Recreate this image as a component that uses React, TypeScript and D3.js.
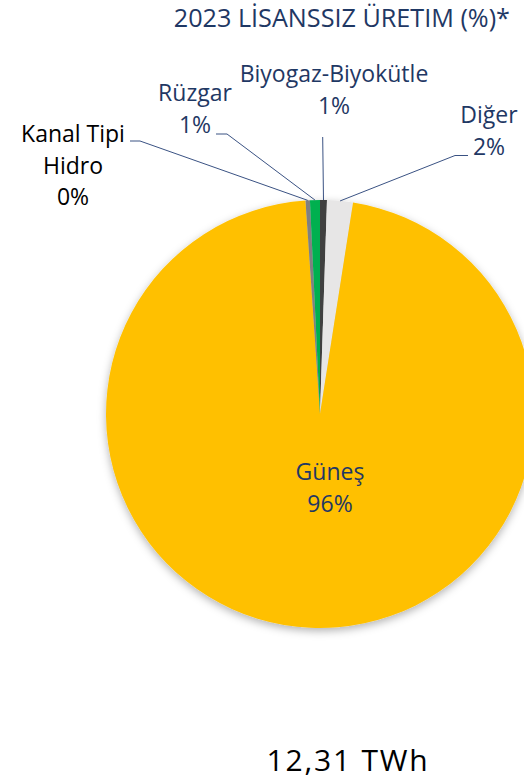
import React from "react";
import * as d3 from "d3";

const categories = ["Biyogaz-Biyokütle", "Diğer", "Güneş", "Kanal Tipi Hidro", "Rüzgar"];
const values = [0.52, 1.95, 96.45, 0.33, 0.75];
const colors = ["#404040", "#E7E6E6", "#FFC000", "#808080", "#00B050"];
const labelLines = [["Biyogaz-Biyokütle"], ["Diğer"], ["Güneş"], ["Kanal Tipi", "Hidro"], ["Rüzgar"]];
const labelColors = ["#1F3864", "#1F3864", "#1F3864", "#000000", "#1F3864"];
const title = "2023 LİSANSSIZ ÜRETIM (%)*";
const totalLabel = "12,31 TWh";

const W = 524;
const H = 781;
const cx = 320;
const cy = 414;
const R = 214;
const FONT = "'Open Sans', sans-serif";
const FS = 23;
const LH = 31.5;

// label anchor positions (text center x, first baseline y) and leader elbow points
const labelPos: { x: number; y: number; elbow?: [number, number][] }[] = [
  { x: 334, y: 82, elbow: [[322.7, 137]] },
  { x: 489, y: 123, elbow: [[468, 155.5], [455, 155.5]] },
  { x: 330, y: 480 },
  { x: 73, y: 142, elbow: [[130, 141], [140, 141]] },
  { x: 195, y: 101, elbow: [[216, 134], [227, 134]] },
];

export default function App() {
  const total = d3.sum(values);
  const pie = d3.pie<number>().sort(null).value((d) => d).startAngle(0).endAngle(2 * Math.PI);
  const arcs = pie(values);
  const arcGen = d3.arc<d3.PieArcDatum<number>>().innerRadius(0).outerRadius(R);

  return (
    <svg width={W} height={H} style={{ position: "absolute", left: 0, top: 0, background: "#fff" }}>
      <defs>
        <filter id="shadow" x="-20%" y="-20%" width="140%" height="140%">
          <feDropShadow dx="0" dy="3" stdDeviation="4" floodColor="#000" floodOpacity="0.3" />
        </filter>
      </defs>
      <text x={510} y={27} textAnchor="end" fontFamily={FONT} fontSize={25.2} fill="#1F3864">
        {title}
      </text>
      <g transform={`translate(${cx},${cy})`} filter="url(#shadow)">
        {arcs.map((a, i) => (
          <path key={categories[i]} d={arcGen(a) || ""} fill={colors[i]} />
        ))}
      </g>
      {arcs.map((a, i) => {
        const lp = labelPos[i];
        if (!lp.elbow) return null;
        const mid = (a.startAngle + a.endAngle) / 2;
        const end: [number, number] = [cx + R * Math.sin(mid), cy - R * Math.cos(mid)];
        const pts = [...lp.elbow, end];
        return (
          <polyline
            key={"l" + i}
            points={pts.map((p) => p.join(",")).join(" ")}
            fill="none"
            stroke="#3A5283"
            strokeWidth={1}
          />
        );
      })}
      {arcs.map((a, i) => {
        const lp = labelPos[i];
        const pct = Math.round((values[i] / total) * 100) + "%";
        const lines = [...labelLines[i], pct];
        return (
          <text key={"t" + i} textAnchor="middle" fontFamily={FONT} fontSize={FS} fill={labelColors[i]}>
            {lines.map((ln, j) => (
              <tspan key={j} x={lp.x} y={lp.y + j * LH}>
                {ln}
              </tspan>
            ))}
          </text>
        );
      })}
      <text x={348} y={771} textAnchor="middle" fontFamily={FONT} fontSize={30} letterSpacing={1.8} fill="#000">
        {totalLabel}
      </text>
    </svg>
  );
}
